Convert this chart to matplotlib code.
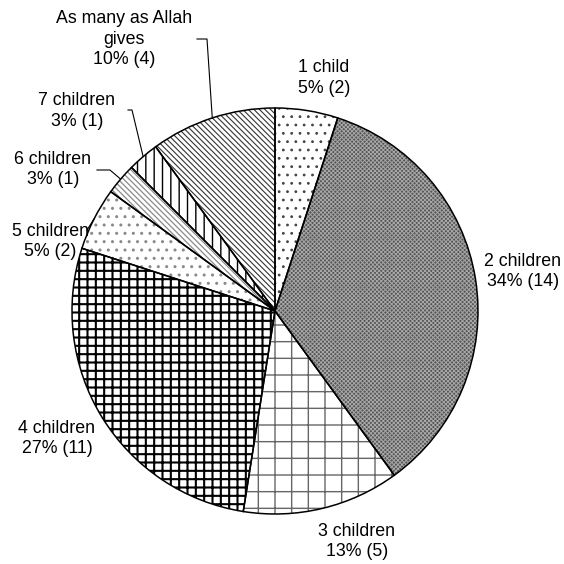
import matplotlib
matplotlib.use("Agg")
import matplotlib.pyplot as plt
import numpy as np

plt.rcParams['font.family'] = ['Liberation Sans', 'DejaVu Sans']

# Number of children wanted (count of respondents)
categories = ["1 child", "2 children", "3 children", "4 children",
              "5 children", "6 children", "7 children",
              "As many as Allah\ngives"]
counts = [2, 14, 5, 11, 2, 1, 1, 4]
pct_labels = ["5%", "34%", "13%", "27%", "5%", "3%", "3%", "10%"]

# Fill styling per slice
hatches = ["..", "xxxxxxxx", "+", "++", "..", "\\" * 6, "||", "\\" * 6]
hatch_colors = ["#444444", "#a8a8a8", "#666666", "black", "#8a8a8a",
                "#8a8a8a", "black", "#333333"]
face_colors = ["white", "#555555", "white", "white", "white",
               "white", "white", "white"]
hatch_widths = [0.8, 0.7, 1.0, 1.5, 1.0, 0.9, 1.0, 0.8]

W = H = 564
fig = plt.figure(figsize=(W / 100, H / 100), dpi=100)
ax = fig.add_axes([0, 0, 1, 1])

cx, cy, R = 275, H - 311, 203

# Filled slices with hatching (hatch colour follows the edge colour)
fill_wedges, _ = ax.pie(counts, startangle=90, counterclock=False,
                        center=(cx, cy), radius=R, frame=True,
                        colors=face_colors,
                        wedgeprops=dict(linewidth=0))
for w, h, hc, hw in zip(fill_wedges, hatches, hatch_colors, hatch_widths):
    w.set_edgecolor(hc)
    w.set_linewidth(0)
    if h:
        w.set_hatch(h)
    if hasattr(w, "set_hatch_linewidth"):
        w.set_hatch_linewidth(hw)

# Black slice outlines on top
outline_wedges, _ = ax.pie(counts, startangle=90, counterclock=False,
                           center=(cx, cy), radius=R, frame=True,
                           colors=["none"] * len(counts),
                           wedgeprops=dict(linewidth=1.1, edgecolor="black"))
ax.set_xlim(0, W)
ax.set_ylim(0, H)
ax.set_aspect('equal')
ax.axis('off')

# Label positions (pixel coordinates from the top-left)
label_pos = [(324, 78), (523, 271.5), (357, 541.5), (57, 438.5),
             (50, 241.5), (53, 169.5), (77, 111), (124, 39)]

for cat, cnt, pct, (lx, ly) in zip(categories, counts, pct_labels, label_pos):
    ax.text(lx, H - ly, f"{cat}\n{pct} ({cnt})", ha="center", va="center",
            fontsize=12.8, linespacing=1.25, color="black")

# Leader lines to small slices: (start point, elbow point) in pixels
leaders = {7: [(197, 39), (207, 39)],
           6: [(128, 110), (132, 110)],
           5: [(97, 170), (110, 170)],
           4: [(87, 230)]}
for idx, pts in leaders.items():
    w = outline_wedges[idx]
    mid = np.deg2rad((w.theta1 + w.theta2) / 2)
    ex, ey = cx + R * np.cos(mid), cy + R * np.sin(mid)
    xs = [p[0] for p in pts] + [ex]
    ys = [H - p[1] for p in pts] + [ey]
    ax.plot(xs, ys, color="black", linewidth=0.8)

fig.savefig("out.png", dpi=100, facecolor="white")
